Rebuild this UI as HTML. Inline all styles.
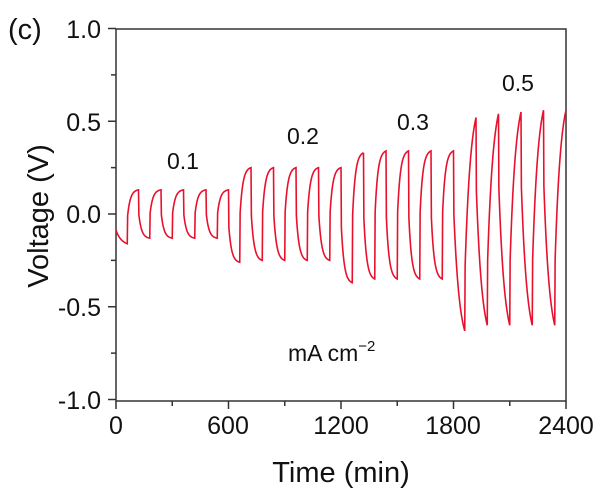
<!DOCTYPE html>
<html><head><meta charset="utf-8"><style>
body{margin:0;background:#fff;width:613px;height:498px;overflow:hidden}
text{font-family:"Liberation Sans",Arial,sans-serif;fill:#111}
</style></head><body>
<svg id="s" width="613" height="498" xmlns="http://www.w3.org/2000/svg">
<rect x="116" y="29" width="450" height="372" fill="none" stroke="#333" stroke-width="1.5"/>
<g stroke="#333" stroke-width="1.5" id="ticks"></g>
<path id="p" fill="none" stroke="#e8112d" stroke-width="1.6"/>
<text x="8" y="39" font-size="29">(c)</text>
<g font-size="25" text-anchor="end">
<text x="101" y="38">1.0</text><text x="101" y="131">0.5</text><text x="101" y="223">0.0</text>
<text x="101" y="316">-0.5</text><text x="101" y="409">-1.0</text></g>
<g font-size="25" text-anchor="middle">
<text x="116" y="434">0</text><text x="228" y="434">600</text><text x="341" y="434">1200</text>
<text x="453" y="434">1800</text><text x="566" y="434">2400</text></g>
<text x="341" y="482" font-size="29" text-anchor="middle">Time (min)</text>
<text transform="translate(48,216) rotate(-90)" font-size="29" text-anchor="middle">Voltage (V)</text>
<g font-size="23" text-anchor="middle">
<text x="183" y="169">0.1</text><text x="303" y="144">0.2</text>
<text x="413" y="130">0.3</text><text x="518" y="91">0.5</text></g>
<text x="288" y="361" font-size="23">mA cm<tspan font-size="15" dy="-10">−2</tspan></text>
</svg>
<script>
var X=t=>116+t*0.1875, Y=v=>214-v*185.5;
var tk=document.getElementById('ticks'),h='';
for(var i=0;i<=8;i++){var x=X(i*300),L=i%2?5:8;h+='<line x1="'+x+'" y1="401" x2="'+x+'" y2="'+(401+L)+'"/>';}
for(var i=0;i<=8;i++){var y=Y(1-i*0.25),L=i%2?5:8;h+='<line x1="116" y1="'+y+'" x2="'+(116-L)+'" y2="'+y+'"/>';}
tk.innerHTML=h;
var hi=[0.13,0.13,0.13,0.13,0.13,0.25,0.25,0.25,0.25,0.25,0.33,0.34,0.34,0.34,0.34,0.52,0.54,0.55,0.56,0.56];
var lo=[-0.16,-0.13,-0.13,-0.13,-0.13,-0.26,-0.25,-0.25,-0.25,-0.25,-0.37,-0.35,-0.35,-0.35,-0.35,-0.63,-0.6,-0.6,-0.6,-0.6];
function f(s,j,tau){return j+(1-j)*(1-Math.exp(-s/tau))/(1-Math.exp(-1/tau));}
var d='',prev=-0.08;
for(var c=0;c<20;c++){
 var t0=c*120,l=lo[c],hh=hi[c];
 var tau=c<15?0.25:0.5;
 var start=(c==0)?-0.08:prev;
 var jn=c<15?0.45:0.3;
 for(var k=0;k<=30;k++){var s=k/30,v=(c==0)?start+(l-start)*f(s,0.1,0.5):start+(l-start)*(k==0?0:f(s,jn,tau));
  d+=(d?'L':'M')+X(t0+s*60).toFixed(2)+','+Y(v).toFixed(2);}
 for(var k=1;k<=30;k++){var s=k/30,v=l+(hh-l)*f(s,c<15?0.45:0.25,tau);
  d+='L'+X(t0+60+s*60).toFixed(2)+','+Y(v).toFixed(2);}
 prev=hh;
}
document.getElementById('p').setAttribute('d',d);
</script>
</body></html>
